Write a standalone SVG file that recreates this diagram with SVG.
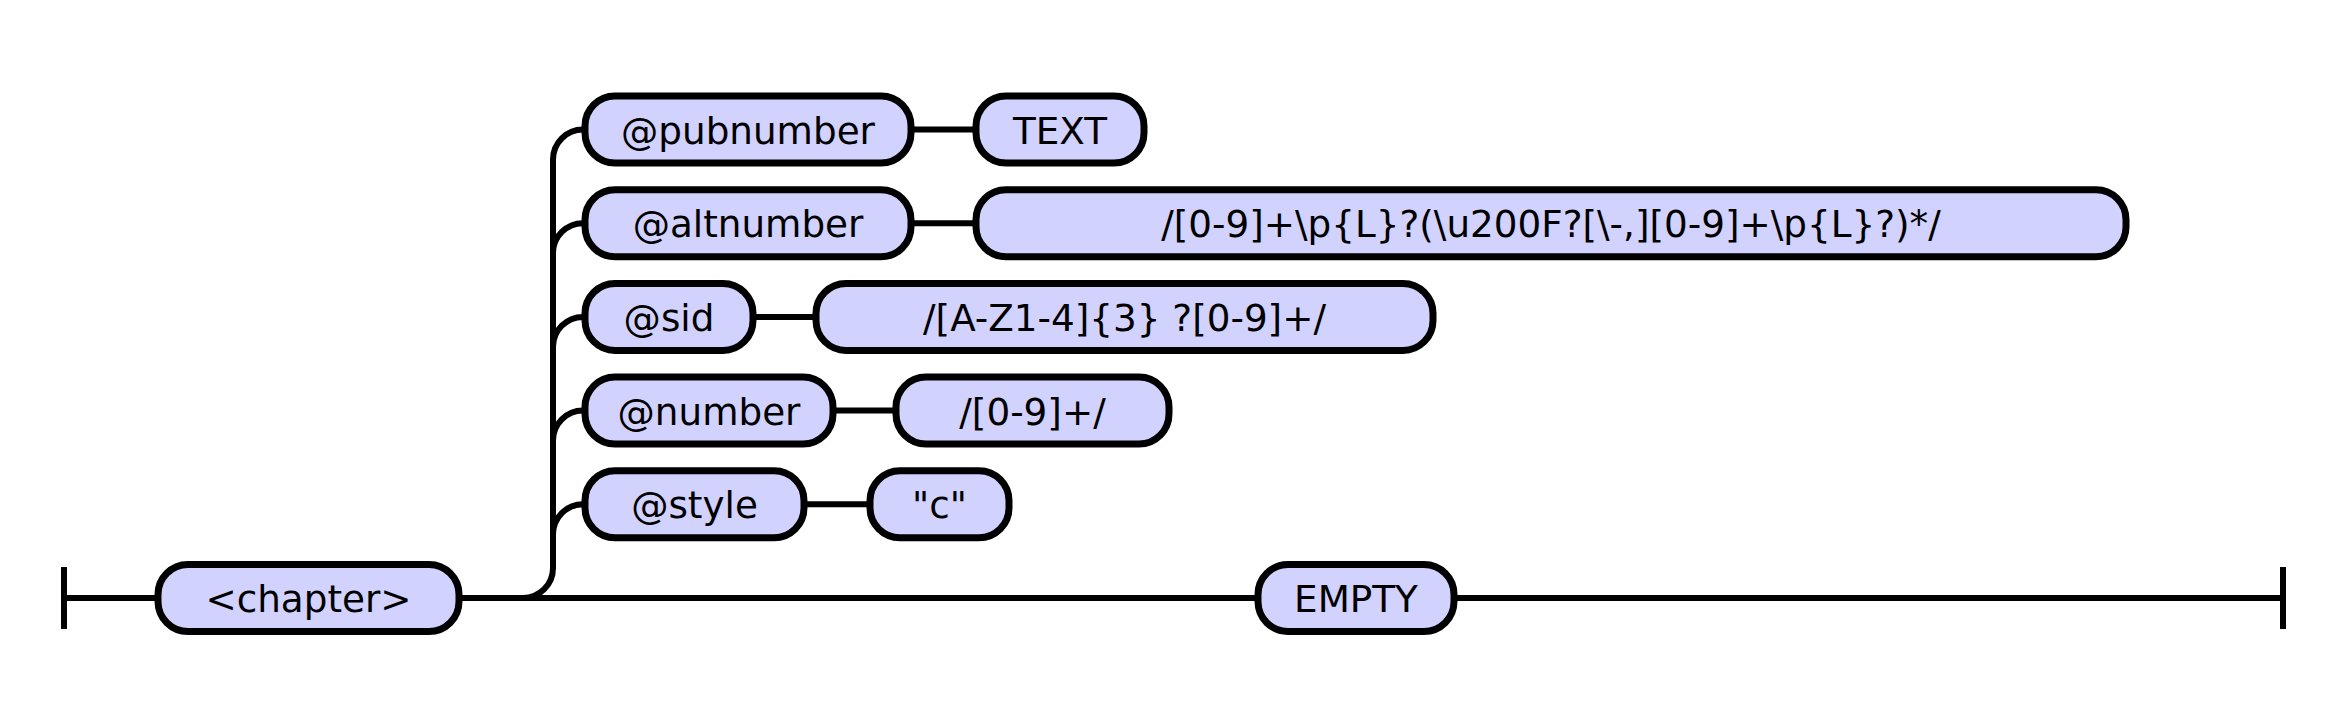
<svg xmlns="http://www.w3.org/2000/svg" width="2344" height="725" viewBox="0 0 2344 725">
<style>
.node rect{fill:#D2D2FF;stroke:#000;stroke-width:7}
.node text{font-family:"DejaVu Sans","Liberation Sans",sans-serif;font-size:37.3px;fill:#000;text-anchor:middle}
.conn path,.conn line{fill:none;stroke:#000;stroke-width:6}
.bar{stroke:#000;stroke-width:6}
</style>
<rect width="2344" height="725" fill="#fff"/>
<g class="conn" id="connectors">
<line class="bar" x1="64" y1="567" x2="64" y2="629"/>
<line class="bar" x1="2283" y1="567" x2="2283" y2="629"/>
<line x1="64" y1="598" x2="158" y2="598"/>
<line x1="459" y1="598" x2="1259" y2="598"/>
<line x1="1453" y1="598" x2="2283" y2="598"/>
<path d="M523 598 A30 30 0 0 0 553 568 L553 159.5 A30 30 0 0 1 583 129.5"/>
<path d="M553 253.2 A30 30 0 0 1 583 223.2"/>
<path d="M553 346.9 A30 30 0 0 1 583 316.9"/>
<path d="M553 440.6 A30 30 0 0 1 583 410.6"/>
<path d="M553 534.3 A30 30 0 0 1 583 504.3"/>
<line x1="910" y1="129.5" x2="976" y2="129.5"/>
<line x1="910" y1="223.2" x2="976" y2="223.2"/>
<line x1="752" y1="316.9" x2="816" y2="316.9"/>
<line x1="832" y1="410.6" x2="896" y2="410.6"/>
<line x1="803" y1="504.3" x2="871" y2="504.3"/>
</g>
<g class="node" id="chapter"><rect x="158" y="564.5" width="301" height="67" rx="30"/><text x="308.5" y="612">&lt;chapter&gt;</text></g>
<g class="node" id="pubnumber"><rect x="585" y="96" width="326" height="67" rx="30"/><text x="748" y="143.5">@pubnumber</text></g>
<g class="node" id="text1"><rect x="976" y="96" width="168" height="67" rx="30"/><text x="1060" y="143.5">TEXT</text></g>
<g class="node" id="altnumber"><rect x="585" y="189.7" width="326" height="67" rx="30"/><text x="748" y="237.2">@altnumber</text></g>
<g class="node" id="altregex"><rect x="976" y="189.7" width="1150" height="67" rx="30"/><text x="1551" y="237.2">/[0-9]+\p{L}?(\u200F?[\-,][0-9]+\p{L}?)*/</text></g>
<g class="node" id="sid"><rect x="585" y="283.4" width="168" height="67" rx="30"/><text x="669" y="330.9">@sid</text></g>
<g class="node" id="sidregex"><rect x="816" y="283.4" width="617" height="67" rx="30"/><text x="1124.5" y="330.9" xml:space="preserve">/[A-Z1-4]{3} ?[0-9]+/</text></g>
<g class="node" id="number"><rect x="585" y="377.1" width="248" height="67" rx="30"/><text x="709" y="424.6">@number</text></g>
<g class="node" id="numregex"><rect x="896" y="377.1" width="273" height="67" rx="30"/><text x="1032.5" y="424.6">/[0-9]+/</text></g>
<g class="node" id="style"><rect x="585" y="470.8" width="219" height="67" rx="30"/><text x="694.5" y="518.3">@style</text></g>
<g class="node" id="cval"><rect x="870" y="470.8" width="139" height="67" rx="30"/><text x="939.5" y="518.3">"c"</text></g>
<g class="node" id="empty"><rect x="1258" y="564.5" width="196" height="67" rx="30"/><text x="1356" y="612">EMPTY</text></g>
</svg>
